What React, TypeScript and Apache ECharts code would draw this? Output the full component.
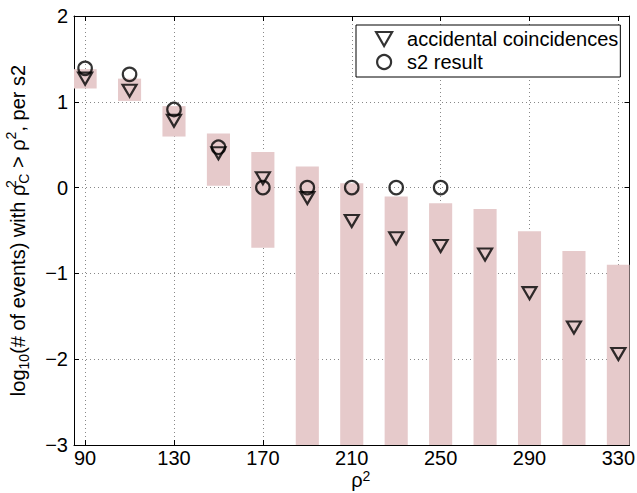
import React, { useEffect, useRef } from "react";
import * as echarts from "echarts";

const X_VALUES = [90, 110, 130, 150, 170, 190, 210, 230, 250, 270, 290, 310, 330];
const ACCIDENTAL = [1.27, 1.13, 0.78, 0.4, 0.11, -0.12, -0.39, -0.59, -0.68, -0.78, -1.23, -1.63, -1.94];
const BAND_TOP = [1.38, 1.27, 0.95, 0.63, 0.415, 0.245, 0.05, -0.105, -0.183, -0.25, -0.51, -0.74, -0.9];
const BAND_BOTTOM = [1.155, 1.01, 0.595, 0.022, -0.7, -3, -3, -3, -3, -3, -3, -3, -3];
const S2_X = [90, 110, 130, 150, 170, 190, 210, 230, 250];
const S2_RESULT = [1.39, 1.32, 0.91, 0.47, 0, 0, 0, 0, 0];
const X_TICKS = [90, 130, 170, 210, 250, 290, 330];
const X_MIN = 85;
const X_MAX = 335;
const Y_MIN = -3;
const Y_MAX = 2;
const Y_STEP = 1;
const LEGEND_NAMES = ["accidental coincidences", "s2 result"];

const FONT = "'Liberation Sans', Arial, Helvetica, sans-serif";
const BAR_COLOR = "#e6cacb";
const BAR_HALF = 5.2;
const FS = 20;

export default function App() {
  const ref = useRef<HTMLDivElement>(null);
  useEffect(() => {
    if (!ref.current) return;
    const chart = echarts.init(ref.current, null, { renderer: "svg" });
    const richBase = {
      n: { fontSize: FS, fontFamily: FONT, color: "#000" },
      sb: { fontSize: 14, fontFamily: FONT, color: "#000", padding: [11, 0, 0, 0] },
      sp: { fontSize: 14, fontFamily: FONT, color: "#000", padding: [0, 0, 14, 0] },
      spz: { fontSize: 14, fontFamily: FONT, color: "#000", padding: [0, 0, 14, 0], width: 1 },
    };
    const richX = {
      n: { fontSize: FS, fontFamily: FONT, color: "#000", lineHeight: 20 },
      sp: { fontSize: 14, fontFamily: FONT, color: "#000", lineHeight: 14, padding: [0, 0, 8, 0] },
    };
    const axisCommon = {
      axisLine: { show: true, onZero: false, lineStyle: { color: "#000", width: 1 } },
      axisTick: { show: true, inside: true, length: 5, lineStyle: { color: "#000", width: 1 } },
    };
    const gridLine = { show: true, lineStyle: { color: "#888", width: 1, type: [1, 3] } };
    const option: any = {
      animation: false,
      backgroundColor: "#fff",
      textStyle: { fontFamily: FONT },
      grid: { left: 74, right: 7.5, top: 16, bottom: 48, containLabel: false, outerBoundsMode: "none" },
      legend: {
        orient: "vertical",
        left: 356,
        top: 25,
        padding: [4, 2, 5, 19],
        itemWidth: 36,
        itemHeight: 14,
        itemGap: 3,
        backgroundColor: "#fff",
        borderColor: "#000",
        borderWidth: 1,
        borderRadius: 0,
        selectedMode: false,
        textStyle: { fontSize: FS, color: "#000", fontFamily: FONT, lineHeight: 20 },
        data: [
          {
            name: LEGEND_NAMES[0],
            icon: "path://M0,0L2,0L1,1.75Z",
            itemStyle: { color: "transparent", borderColor: "#000", borderWidth: 2.2 },
          },
          {
            name: LEGEND_NAMES[1],
            icon: "circle",
            itemStyle: { color: "transparent", borderColor: "#000", borderWidth: 2.2 },
          },
        ],
      },
      xAxis: [
        {
          type: "value",
          position: "bottom",
          min: X_MIN,
          max: X_MAX,
          ...axisCommon,
          axisTick: { ...axisCommon.axisTick, customValues: X_TICKS },
          axisLabel: {
            customValues: X_TICKS,
            color: "#000",
            fontSize: FS,
            fontFamily: FONT,
            margin: 3,
            lineHeight: 20,
          },
          splitLine: gridLine,
          name: "{n|ρ}{sp|2}",
          nameLocation: "middle",
          nameGap: 25,
          nameMoveOverlap: false,
          nameTextStyle: { rich: richX, padding: [0, 0, 0, 18] },
        },
        {
          type: "value",
          position: "top",
          min: X_MIN,
          max: X_MAX,
          ...axisCommon,
          axisTick: { ...axisCommon.axisTick, customValues: X_TICKS },
          axisLabel: { show: false, customValues: X_TICKS },
          splitLine: { show: false },
        },
      ],
      yAxis: [
        {
          type: "value",
          position: "left",
          min: Y_MIN,
          max: Y_MAX,
          interval: Y_STEP,
          ...axisCommon,
          axisLabel: {
            color: "#000",
            fontSize: FS,
            fontFamily: FONT,
            margin: 6,
            formatter: (v: number) => (v < 0 ? "\u2212" + Math.abs(v) : String(v)),
          },
          splitLine: gridLine,
          name: "{n|log}{sb|10}{n|(# of events) with ρ}{spz|2}{sb|C}{n| > ρ}{sp|2}{n|, per s2}",
          nameLocation: "middle",
          nameGap: 42,
          nameMoveOverlap: false,
          nameRotate: 90,
          nameTextStyle: { rich: richBase },
        },
        {
          type: "value",
          position: "right",
          min: Y_MIN,
          max: Y_MAX,
          interval: Y_STEP,
          ...axisCommon,
          axisLabel: { show: false },
          splitLine: { show: false },
        },
      ],
      series: [
        {
          type: "custom",
          name: "band",
          xAxisIndex: 0,
          yAxisIndex: 0,
          silent: true,
          z: 1,
          encode: { x: 0, y: [1, 2] },
          data: X_VALUES.map((x, i) => [x, BAND_BOTTOM[i], BAND_TOP[i]]),
          renderItem: (params: any, api: any) => {
            const x = api.value(0);
            const lo = api.value(1);
            const hi = api.value(2);
            const p1 = api.coord([x - BAR_HALF, hi]);
            const p2 = api.coord([x + BAR_HALF, lo]);
            const shape = echarts.graphic.clipRectByRect(
              { x: p1[0], y: p1[1], width: p2[0] - p1[0], height: p2[1] - p1[1] },
              {
                x: params.coordSys.x,
                y: params.coordSys.y,
                width: params.coordSys.width,
                height: params.coordSys.height,
              }
            );
            return shape ? { type: "rect", shape, style: { fill: BAR_COLOR } } : null;
          },
        },
        {
          type: "scatter",
          name: LEGEND_NAMES[0],
          xAxisIndex: 0,
          yAxisIndex: 0,
          z: 3,
          symbol: "triangle",
          symbolRotate: 180,
          symbolSize: [14, 12],
          itemStyle: { color: "transparent", borderColor: "#000", borderWidth: 2.2 },
          data: X_VALUES.map((x, i) => [x, ACCIDENTAL[i]]),
        },
        {
          type: "scatter",
          name: LEGEND_NAMES[1],
          xAxisIndex: 0,
          yAxisIndex: 0,
          z: 4,
          symbol: "circle",
          symbolSize: 13.5,
          itemStyle: { color: "transparent", borderColor: "#000", borderWidth: 2.2 },
          data: S2_X.map((x, i) => [x, S2_RESULT[i]]),
        },
      ],
    };
    chart.setOption(option);
    return () => chart.dispose();
  }, []);
  return (
    <div
      ref={ref}
      style={{ position: "fixed", left: 0, top: 0, width: 637, height: 493, background: "#fff" }}
    />
  );
}
